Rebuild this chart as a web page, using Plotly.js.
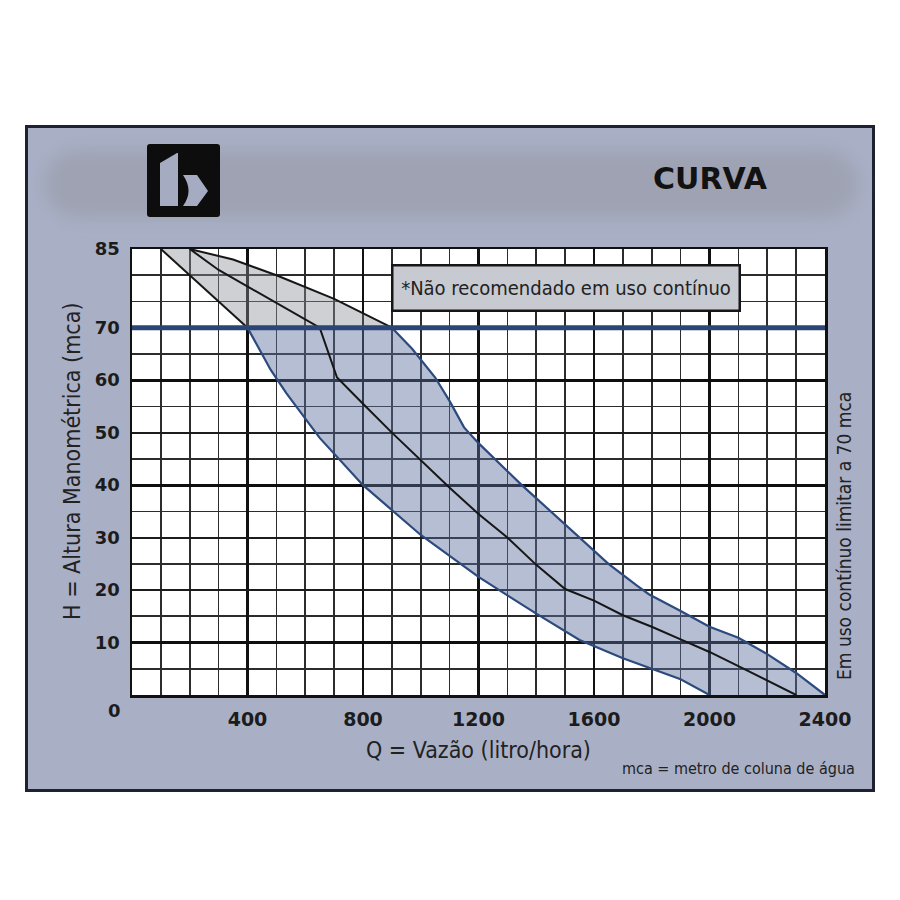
<!DOCTYPE html>
<html>
<head>
<meta charset="utf-8">
<script src="https://cdn.plot.ly/plotly-3.0.1.min.js"></script>
<style>
  html, body { margin:0; padding:0; background:#ffffff; }
  #frame { position:absolute; left:25px; top:125px; width:850px; height:667px; box-sizing:border-box;
           border:3px solid #1e2130; background:#a9b0c6; }
  #band { position:absolute; left:44px; top:150px; width:814px; height:68px; background:#9ea2b2;
          filter:blur(9px); border-radius:34px; }
  #logo { position:absolute; left:147px; top:144px; width:73px; height:73px; }
  #chart { position:absolute; left:0; top:0; width:900px; height:900px; }
</style>
</head>
<body>
<div id="frame"></div>
<div id="band"></div>
<svg id="logo" viewBox="0 0 73 73" xmlns="http://www.w3.org/2000/svg">
  <rect x="0" y="0" width="73" height="73" rx="3" fill="#0d0d0d"/>
  <path d="M13,19 L30,9 L31,9 L31,62 L13,62 Z" fill="#a5acc2"/>
  <path d="M36,31 L50,31 L61,47 L50,62 L36,62 Q47,47 36,31 Z" fill="#a5acc2"/>
</svg>
<div id="chart"></div>
<script>
// ---- data ----
const xTickVals = [400, 800, 1200, 1600, 2000, 2400];
const xTickText = ['400', '800', '1200', '1600', '2000', '2400'];
const yTickVals = [10, 20, 30, 40, 50, 60, 70, 85];
const yTickText = ['10', '20', '30', '40', '50', '60', '70', '85'];
const yHeavyGrid = [10, 40, 60];

const limitH = 70;
const limitX = [0, 2400];

// upper (gray) zone, above 70 mca
const leftTopX = [100, 400];
const leftTopY = [85, 70];
const rightTopX = [200, 350, 500, 700, 900];
const rightTopY = [85, 83, 80, 75.5, 70];

// lower (blue) zone boundaries
const lowerX = [400, 480, 535, 650, 800, 1000, 1200, 1400, 1550, 1700, 1900, 2000];
const lowerY = [70, 62, 57.5, 49, 40, 30.5, 22.5, 15.5, 10.5, 7, 3, 0];
const upperX = [900, 970, 1050, 1100, 1150, 1200, 1350, 1500, 1650, 1750, 1790, 1900, 2000, 2100, 2200, 2300, 2400];
const upperY = [70, 66, 60.5, 56, 51, 48, 40, 32.5, 25, 20.8, 19.2, 16, 13, 10.9, 7.8, 4.2, 0];

// middle (nominal) curve
const midX = [200, 300, 650, 710, 800, 900, 1100, 1200, 1300, 1400, 1500, 1600, 1700, 1800, 1900, 2000, 2100, 2300];
const midY = [85, 81, 70, 60.5, 55.5, 50, 39.5, 34.5, 30, 24.8, 20.2, 18, 15.2, 13, 10.6, 8.2, 5.5, 0];

// ---- traces ----
const grayPolyX = rightTopX.concat(leftTopX.slice().reverse());
const grayPolyY = rightTopY.concat(leftTopY.slice().reverse());
const bluePolyX = upperX.concat(lowerX.slice().reverse());
const bluePolyY = upperY.concat(lowerY.slice().reverse());

const black = '#161616';
const navy = '#2d4a7e';

const traces = [
  {x: grayPolyX, y: grayPolyY, fill: 'toself', fillcolor: 'rgba(140,142,152,0.42)', mode: 'none', type: 'scatter', hoverinfo: 'skip'},
  {x: bluePolyX, y: bluePolyY, fill: 'toself', fillcolor: 'rgba(92,110,155,0.45)', mode: 'none', type: 'scatter', hoverinfo: 'skip'},
  {x: leftTopX, y: leftTopY, mode: 'lines', line: {color: black, width: 2}, type: 'scatter'},
  {x: rightTopX, y: rightTopY, mode: 'lines', line: {color: black, width: 2}, type: 'scatter'},
  {x: lowerX, y: lowerY, mode: 'lines', line: {color: navy, width: 2.2}, type: 'scatter'},
  {x: upperX, y: upperY, mode: 'lines', line: {color: navy, width: 2.2}, type: 'scatter'},
  {x: midX, y: midY, mode: 'lines', line: {color: black, width: 2}, type: 'scatter'},
  {x: limitX, y: limitX.map(() => limitH), mode: 'lines', line: {color: '#2b4577', width: 5}, type: 'scatter', yaxis: 'y2'}
];

const fW = 900, fH = 900, mL = 132, mR = 75, mT = 249, mB = 205;
const pw = fW - mL - mR, ph = fH - mT - mB;
const px = v => (v - mL) / pw;          // page px -> paper x
const py = v => (fH - mB - v) / ph;     // page px -> paper y

const cond = 'DejaVu Sans Condensed, DejaVu Sans, sans-serif';

function note(text, x, y, size, extra) {
  return Object.assign({text: text, xref: 'paper', yref: 'paper', x: px(x), y: py(y),
    xanchor: 'center', yanchor: 'middle', showarrow: false,
    font: {family: cond, size: size, color: '#222'}}, extra || {});
}

const layout = {
  width: fW, height: fH,
  margin: {l: mL, r: mR, t: mT, b: mB, pad: 0},
  paper_bgcolor: 'rgba(0,0,0,0)',
  plot_bgcolor: '#ffffff',
  showlegend: false,
  title: {text: 'CURVA', font: {family: 'DejaVu Sans', size: 30, weight: 'bold', color: '#121212'},
          x: 710 / fW, xref: 'container', xanchor: 'center', y: 1 - 178 / fH, yref: 'container', yanchor: 'middle'},
  xaxis: {
    range: [0, 2400], tickmode: 'array', tickvals: xTickVals, ticktext: xTickText,
    showgrid: true, gridcolor: '#111', gridwidth: 2.6,
    minor: {dtick: 100, tick0: 0, showgrid: true, gridcolor: '#2c2c2c', gridwidth: 1.7, ticks: ''},
    zeroline: false, showline: true, mirror: true, linecolor: '#111', linewidth: 2.5,
    ticks: '', ticklabelstandoff: 6,
    tickfont: {family: 'DejaVu Sans', size: 19, weight: 'bold', color: '#1c1c1c'}, fixedrange: true
  },
  yaxis: {
    range: [0, 85], tickmode: 'array', tickvals: yTickVals, ticktext: yTickText,
    showgrid: true, gridcolor: '#1c1c1c', gridwidth: 2.1,
    minor: {dtick: 5, tick0: 0, showgrid: true, gridcolor: '#2c2c2c', gridwidth: 1.7, ticks: ''},
    zeroline: false, showline: true, mirror: true, linecolor: '#111', linewidth: 2.5,
    ticks: '', ticklabelstandoff: 6,
    tickfont: {family: 'DejaVu Sans', size: 18, weight: 'bold', color: '#1c1c1c'}, fixedrange: true
  },
  yaxis2: {
    overlaying: 'y', range: [0, 85], tickmode: 'array', tickvals: yHeavyGrid, showticklabels: false,
    showgrid: true, gridcolor: '#0e0e0e', gridwidth: 2.8, zeroline: false, showline: false, ticks: '', fixedrange: true
  },
  annotations: [
    note('0', 114, 710, 18, {font: {family: 'DejaVu Sans', size: 18, weight: 'bold', color: '#1c1c1c'}}),
    note('H = Altura Manométrica (mca)', 72, 462, 23, {textangle: -90}),
    note('Q = Vazão (litro/hora)', 478, 750, 23),
    note('mca = metro de coluna de água', 738, 768, 16),
    note('Em uso contínuo limitar a 70 mca', 844, 536, 19, {textangle: -90}),
    note('*Não recomendado em uso contínuo', 566, 288, 20,
         {width: 343, height: 41, bgcolor: '#c8cad1', bordercolor: '#161616', borderwidth: 2.5})
  ]
};

Plotly.newPlot('chart', traces, layout, {staticPlot: true, displayModeBar: false});
</script>
</body>
</html>
